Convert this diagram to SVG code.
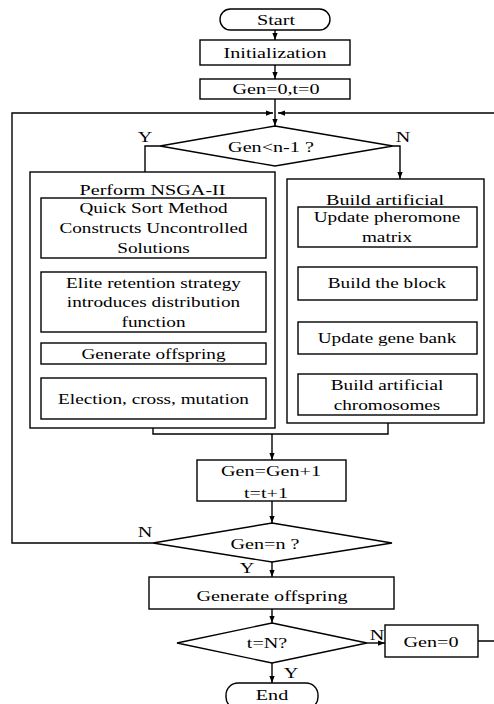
<svg xmlns="http://www.w3.org/2000/svg" width="494" height="704" viewBox="0 0 494 704" font-family="'Liberation Serif', 'Times New Roman', serif" font-size="15.5">
<defs>
<marker id="ah" viewBox="0 0 8 6" refX="8" refY="3" markerWidth="7" markerHeight="6" markerUnits="userSpaceOnUse" orient="auto">
<path d="M0,0 L8,3 L0,6 z" fill="#000"/>
</marker>
</defs>
<style>
.b{fill:#fff;stroke:#000;stroke-width:1.4}
.c{fill:none;stroke:#000;stroke-width:1.4}
.a{marker-end:url(#ah)}
text{font-family:'Liberation Serif','Times New Roman',serif;font-size:15.5px;fill:#000;text-anchor:middle}
</style>
<rect width="494" height="704" fill="#fff"/>
<g id="connectors">
<path class="c a" d="M275,30 V40"/>
<path class="c a" d="M275,65 V79"/>
<path class="c a" d="M275,99 V126"/>
<path class="c" d="M160,146 H145 V172"/>
<path class="c a" d="M393,146 H400 V179"/>
<path class="c a" d="M153.5,258 V272"/>
<path class="c a" d="M153.5,332 V343"/>
<path class="c a" d="M153.5,364 V378"/>
<path class="c a" d="M387,247 V267"/>
<path class="c a" d="M387,300 V322"/>
<path class="c a" d="M387,354 V374"/>
<path class="c" d="M153,428 V434 H388 V423"/>
<path class="c a" d="M272,434 V460"/>
<path class="c a" d="M272,501 V523"/>
<path class="c a" d="M153,543 H12 V113 H273"/>
<path class="c a" d="M272,562 V577"/>
<path class="c a" d="M272,609 V623"/>
<path class="c a" d="M367,643 H385"/>
<path class="c a" d="M478,641 H502 V113 H278"/>
<path class="c a" d="M272,663 V683"/>
<text font-family="Liberation Serif, serif" transform="translate(145,142) scale(1.3,1)">Y</text>
<text font-family="Liberation Serif, serif" transform="translate(403,142) scale(1.3,1)">N</text>
<text font-family="Liberation Serif, serif" transform="translate(145,537) scale(1.3,1)">N</text>
<text font-family="Liberation Serif, serif" transform="translate(247,573) scale(1.3,1)">Y</text>
<text font-family="Liberation Serif, serif" transform="translate(377,640) scale(1.3,1)">N</text>
<text font-family="Liberation Serif, serif" transform="translate(291,678) scale(1.3,1)">Y</text>
</g>
<g id="start" font-family="Liberation Serif, serif">
<rect class="b" x="220" y="9" width="110" height="21" rx="10.5"/>
<text transform="translate(276,25) scale(1.3,1)">Start</text>
</g>
<g id="init" font-family="Liberation Serif, serif">
<rect class="b" x="200" y="40" width="150" height="25"/>
<text transform="translate(275,58) scale(1.3,1)">Initialization</text>
</g>
<g id="gen0t0">
<rect class="b" x="200" y="79" width="150" height="20"/>
<text transform="translate(276,94) scale(1.3,1)">Gen=0,t=0</text>
</g>
<g id="cond1">
<polygon class="b" points="275,126 393,146 275,166 160,146"/>
<text transform="translate(271,152) scale(1.3,1)">Gen&lt;n-1 ?</text>
</g>
<g id="nsga">
<rect class="b" x="30" y="172" width="245" height="256"/>
<text transform="translate(152.5,195) scale(1.3,1)">Perform NSGA-II</text>
</g>
<g id="qsort">
<rect class="b" x="41" y="198" width="225" height="60"/>
<text transform="translate(153.5,213) scale(1.24,1)">Quick Sort Method</text>
<text transform="translate(153.5,233) scale(1.24,1)">Constructs Uncontrolled</text>
<text transform="translate(153.5,253) scale(1.24,1)">Solutions</text>
</g>
<g id="elite">
<rect class="b" x="41" y="272" width="225" height="60"/>
<text transform="translate(153.5,288) scale(1.24,1)">Elite retention strategy</text>
<text transform="translate(153.5,307) scale(1.24,1)">introduces distribution</text>
<text transform="translate(153.5,327) scale(1.24,1)">function</text>
</g>
<g id="genoff1">
<rect class="b" x="41" y="343" width="225" height="21"/>
<text transform="translate(153.5,359) scale(1.24,1)">Generate offspring</text>
</g>
<g id="election">
<rect class="b" x="41" y="378" width="225" height="41"/>
<text transform="translate(153.5,404) scale(1.24,1)">Election, cross, mutation</text>
</g>
<g id="build">
<rect class="b" x="287" y="179" width="197" height="244"/>
<text transform="translate(385,205) scale(1.3,1)">Build artificial</text>
</g>
<g id="pher">
<rect class="b" x="298" y="207" width="179" height="40"/>
<text transform="translate(387,222) scale(1.24,1)">Update pheromone</text>
<text transform="translate(387,242) scale(1.24,1)">matrix</text>
</g>
<g id="block">
<rect class="b" x="298" y="267" width="179" height="33"/>
<text transform="translate(387,288) scale(1.24,1)">Build the block</text>
</g>
<g id="genebank">
<rect class="b" x="298" y="322" width="179" height="32"/>
<text transform="translate(387,343) scale(1.24,1)">Update gene bank</text>
</g>
<g id="chrom">
<rect class="b" x="298" y="374" width="179" height="41"/>
<text transform="translate(387,390) scale(1.24,1)">Build artificial</text>
<text transform="translate(387,410) scale(1.24,1)">chromosomes</text>
</g>
<g id="inc">
<rect class="b" x="197" y="460" width="149" height="41"/>
<text transform="translate(271,476) scale(1.3,1)">Gen=Gen+1</text>
<text transform="translate(266,498) scale(1.3,1)">t=t+1</text>
</g>
<g id="cond2">
<polygon class="b" points="272,523 392,543 272,562 153,543"/>
<text transform="translate(265,549) scale(1.3,1)">Gen=n ?</text>
</g>
<g id="genoff2">
<rect class="b" x="149" y="577" width="245" height="32"/>
<text transform="translate(272,601) scale(1.3,1)">Generate offspring</text>
</g>
<g id="cond3">
<polygon class="b" points="272,623 367,643 272,663 177,643"/>
<text transform="translate(267,648) scale(1.3,1)">t=N?</text>
</g>
<g id="gen0">
<rect class="b" x="385" y="625" width="93" height="32"/>
<text transform="translate(431,647) scale(1.3,1)">Gen=0</text>
</g>
<g id="end">
<rect class="b" x="226" y="683" width="92" height="26" rx="12"/>
<text transform="translate(272,700) scale(1.3,1)">End</text>
</g>
</svg>
